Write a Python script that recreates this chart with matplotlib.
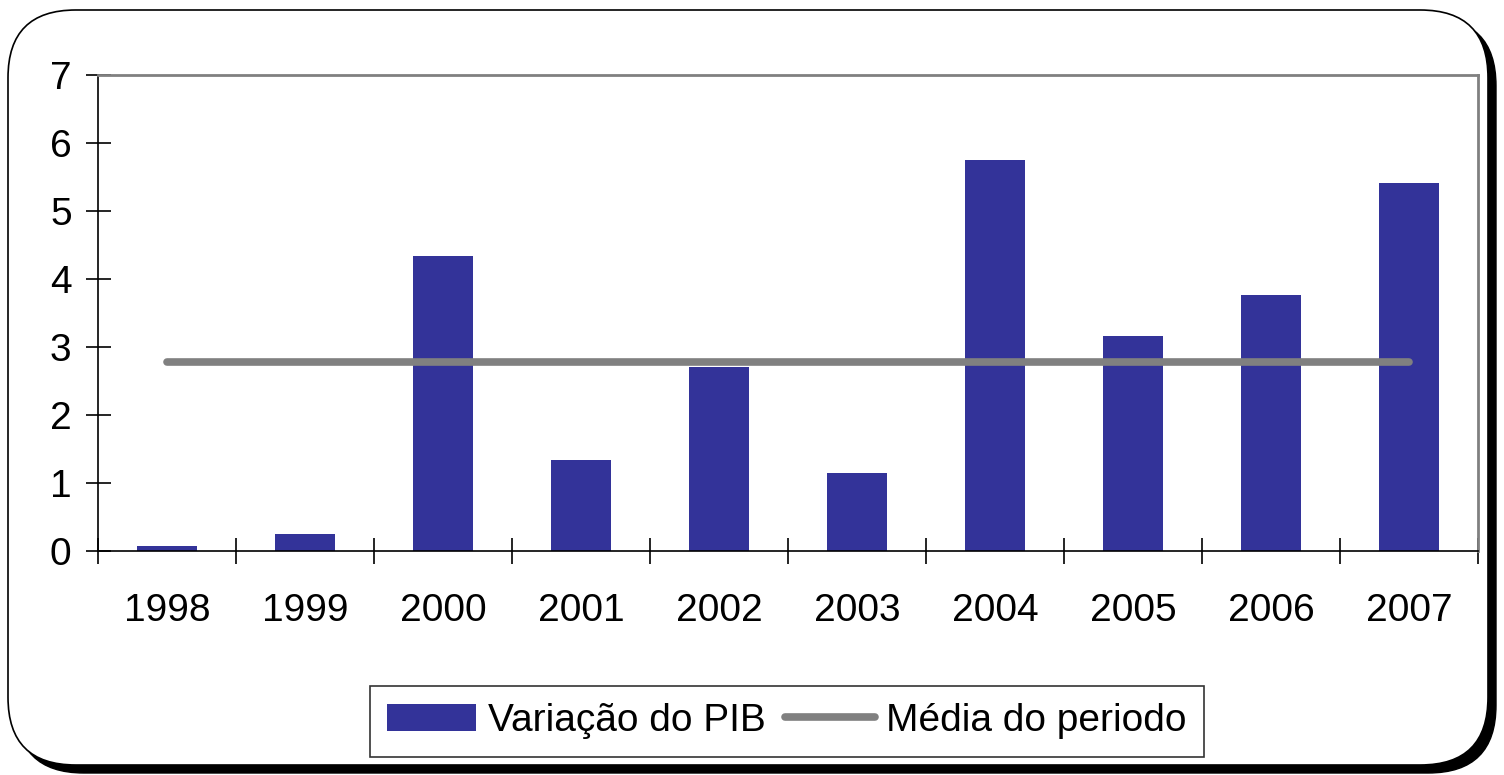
import matplotlib.pyplot as plt
import numpy as np
from matplotlib.patches import FancyBboxPatch

plt.rcParams['font.family'] = ['Liberation Sans', 'DejaVu Sans']

anos = ['1998', '1999', '2000', '2001', '2002', '2003', '2004', '2005', '2006', '2007']
variacao_pib = [0.07, 0.25, 4.34, 1.34, 2.71, 1.15, 5.75, 3.16, 3.76, 5.41]
media = 2.78

fig = plt.figure(figsize=(15.04, 7.75), dpi=100)

# moldura arredondada com sombra
sombra = FancyBboxPatch((16/1504, 2/775), 1480/1504, 755/775,
                        boxstyle="round,pad=0,rounding_size=0.045",
                        transform=fig.transFigure, facecolor='black',
                        edgecolor='black', mutation_aspect=1504/775, zorder=-10)
fig.patches.append(sombra)
moldura = FancyBboxPatch((8/1504, 10/775), 1480/1504, 755/775,
                         boxstyle="round,pad=0,rounding_size=0.045",
                         transform=fig.transFigure, facecolor='white',
                         edgecolor='black', linewidth=1.2, mutation_aspect=1504/775,
                         zorder=-9)
fig.patches.append(moldura)

ax = fig.add_axes([98/1504, 1 - 551/775, 1380/1504, 476/775])
ax.patch.set_alpha(0)

x = np.arange(len(anos))
barras = ax.bar(x, variacao_pib, width=0.43, color='#333399', label='Variação do PIB', zorder=2)
linha, = ax.plot([x[0], x[-1]], [media, media], color='#808080', linewidth=5.5,
                 solid_capstyle='round', label='Média do periodo', zorder=3)

ax.set_xlim(-0.5, len(anos) - 0.5)
ax.set_ylim(0, 7)
ax.set_yticks(range(0, 8))
ax.set_xticks(x)
ax.set_xticklabels(anos)
ax.set_xticks(np.arange(-0.5, len(anos)), minor=True)
ax.tick_params(axis='x', which='major', length=0, pad=30, labelsize=28)
ax.tick_params(axis='x', which='minor', direction='inout', length=19, width=1.2)
ax.tick_params(axis='y', direction='inout', length=18, width=1.2, pad=10, labelsize=28)

for s in ['top', 'right']:
    ax.spines[s].set_color('#808080')
    ax.spines[s].set_linewidth(2)
for s in ['left', 'bottom']:
    ax.spines[s].set_color('black')
    ax.spines[s].set_linewidth(1.2)

leg = fig.legend([barras, linha], ['Variação do PIB', 'Média do periodo'],
                 loc='center', bbox_to_anchor=(787/1504, 1 - 721/775), ncol=2,
                 fontsize=28, frameon=True, fancybox=False, handlelength=2.3,
                 handletextpad=0.3, columnspacing=0.5, borderpad=0.45)
leg.get_frame().set_edgecolor('black')
leg.get_frame().set_linewidth(1.2)

plt.savefig('out.png', dpi=100)
